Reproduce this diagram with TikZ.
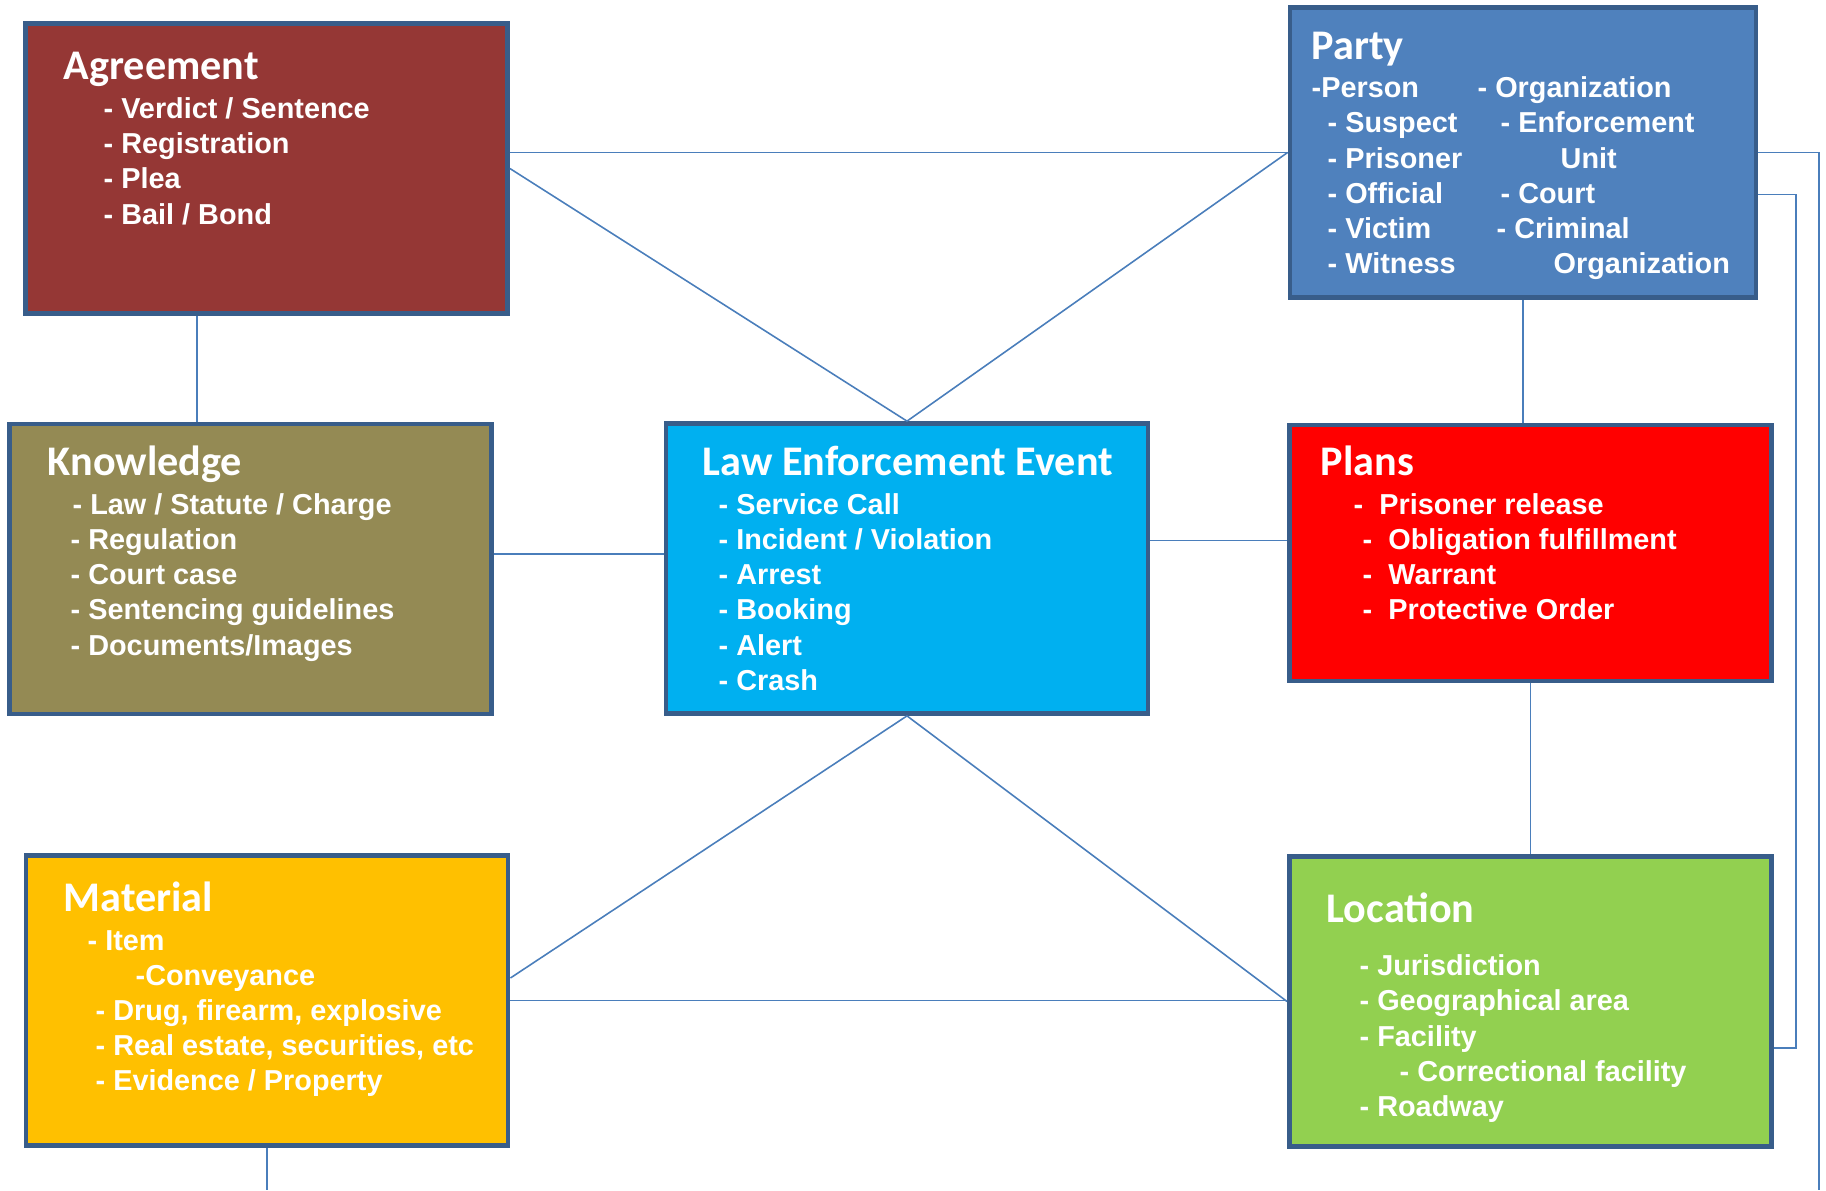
\documentclass[tikz,border=0pt]{standalone}
\usepackage{fontspec}
\newfontfamily\headfont{Carlito}
\newfontfamily\itemfont{Liberation Sans}
\definecolor{agreecol}{HTML}{953735}
\definecolor{partycol}{HTML}{4F81BD}
\definecolor{knowcol}{HTML}{948A54}
\definecolor{eventcol}{HTML}{00B0F0}
\definecolor{planscol}{HTML}{FF0000}
\definecolor{matcol}{HTML}{FFC000}
\definecolor{loccol}{HTML}{92D050}
\definecolor{edgecol}{HTML}{385D8A}
\definecolor{linkcol}{HTML}{4A7EBB}

\begin{document}
\begin{tikzpicture}[x=0.01cm, y=-0.01cm,
	box/.style={draw=edgecol, line width=1.3pt, minimum width=4.82cm, minimum height=2.9cm, inner sep=0pt},
	link/.style={draw=linkcol, line width=0.45pt},
	head/.style={anchor=base west, inner sep=0pt, text=white, font=\headfont\bfseries\fontsize{12}{14}\selectfont},
	item/.style={anchor=base west, inner sep=0pt, text=white, font=\itemfont\bfseries\fontsize{8.2}{10}\selectfont}]
	\useasboundingbox (0,0) rectangle (1826,1190);
	% the seven boxes
	\node[box, fill=agreecol] (agr) at (266.5,168.5) {};
	\node[box, fill=partycol, minimum width=4.66cm] (party) at (1523,152.5) {};
	\node[box, fill=knowcol] (know) at (250.5,569) {};
	\node[box, fill=eventcol] (lee) at (907,568.5) {};
	\node[box, fill=planscol, minimum height=2.56cm] (plans) at (1530.5,553) {};
	\node[box, fill=matcol] (mat) at (267,1000.5) {};
	\node[box, fill=loccol] (loc) at (1530.5,1001.5) {};
	% links
	\draw[link] (agr.east |- party.west) -- (party.west);
	\draw[link] (agr.east) -- (lee.north);
	\draw[link] (party.west) -- (lee.north);
	\draw[link] ([xshift=-0.695cm]agr.south) -- ([xshift=-0.695cm]agr.south |- know.north);
	\draw[link] ([yshift=0.15cm]know.east) -- ([yshift=0.15cm]know.east -| lee.west);
	\draw[link] ([yshift=0.28cm]lee.east) -- ([yshift=0.28cm]lee.east -| plans.west);
	\draw[link] (party.south) -- (party.south |- plans.north);
	\draw[link] (plans.south) -- (loc.north);
	\draw[link] (lee.south) -- ([yshift=0.225cm]mat.east);
	\draw[link] (lee.south) -- (loc.west);
	\draw[link] (mat.east) -- (mat.east -| loc.west);
	\coordinate (matend) at (267,1190);
	\draw[link] (mat.south) -- (matend);
	\coordinate (partyend) at (1819,1190);
	\draw[link] (party.east) -| (partyend);
	\draw[link] ([yshift=-0.42cm]party.east) -| ([xshift=0.22cm,yshift=-0.465cm]loc.east) -- ([yshift=-0.465cm]loc.east);
	% Agreement
	\node[head] (agr-t) at (63,79) {Agreement};
	\node[item] (agr-1) at (103,118) {- Verdict / Sentence};
	\node[item] (agr-2) at (103,153) {- Registration};
	\node[item] (agr-3) at (103,188) {- Plea};
	\node[item] (agr-4) at (103,224) {- Bail / Bond};
	% Party
	\node[head] (party-t) at (1311,59) {Party};
	\node[item] (party-p) at (1311,97) {-Person};
	\node[item] (party-o) at (1477,97) {- Organization};
	\node[item] (party-1) at (1327,132) {- Suspect};
	\node[item] (party-2) at (1327,168) {- Prisoner};
	\node[item] (party-3) at (1327,203) {- Official};
	\node[item] (party-4) at (1327,238) {- Victim};
	\node[item] (party-5) at (1327,273) {- Witness};
	\node[item] (party-6) at (1500,132) {- Enforcement};
	\node[item] (party-7) at (1560,168) {Unit};
	\node[item] (party-8) at (1500,203) {- Court};
	\node[item] (party-9) at (1496,238) {- Criminal};
	\node[item] (party-10) at (1553,273) {Organization};
	% Knowledge
	\node[head] (know-t) at (47,475) {Knowledge};
	\node[item] (know-1) at (72,514) {- Law / Statute / Charge};
	\node[item] (know-2) at (70,549) {- Regulation};
	\node[item] (know-3) at (70,584) {- Court case};
	\node[item] (know-4) at (70,619) {- Sentencing guidelines};
	\node[item] (know-5) at (70,655) {- Documents/Images};
	% Law Enforcement Event
	\node[head] (lee-t) at (702,475) {Law Enforcement Event};
	\node[item] (lee-1) at (718,514) {- Service Call};
	\node[item] (lee-2) at (718,549) {- Incident / Violation};
	\node[item] (lee-3) at (718,584) {- Arrest};
	\node[item] (lee-4) at (718,619) {- Booking};
	\node[item] (lee-5) at (718,655) {- Alert};
	\node[item] (lee-6) at (718,690) {- Crash};
	% Plans
	\node[head] (plans-t) at (1320,475) {Plans};
	\node[item] (plans-1) at (1353,514) {-~~Prisoner release};
	\node[item] (plans-2) at (1362,549) {-~~Obligation fulfillment};
	\node[item] (plans-3) at (1362,584) {-~~Warrant};
	\node[item] (plans-4) at (1362,619) {-~~Protective Order};
	% Material
	\node[head] (mat-t) at (63,911) {Material};
	\node[item] (mat-1) at (87,950) {- Item};
	\node[item] (mat-2) at (135,985) {-Conveyance};
	\node[item] (mat-3) at (95,1020) {- Drug, firearm, explosive};
	\node[item] (mat-4) at (95,1055) {- Real estate, securities, etc};
	\node[item] (mat-5) at (95,1090) {- Evidence / Property};
	% Location
	\node[head] (loc-t) at (1326,922) {Location};
	\node[item] (loc-1) at (1359,975) {- Jurisdiction};
	\node[item] (loc-2) at (1359,1010) {- Geographical area};
	\node[item] (loc-3) at (1359,1046) {- Facility};
	\node[item] (loc-4) at (1399,1081) {- Correctional facility};
	\node[item] (loc-5) at (1359,1116) {- Roadway};
\end{tikzpicture}
\end{document}
